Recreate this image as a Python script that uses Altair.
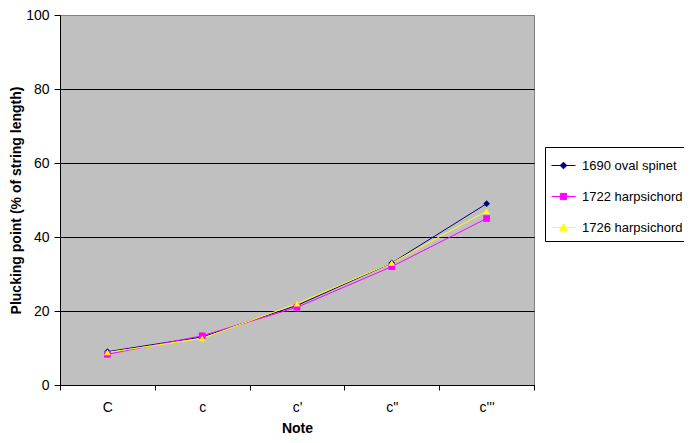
import altair as alt
import pandas as pd

notes = ["C", "c", "c'", "c''", "c'''"]
series = ["1690 oval spinet", "1722 harpsichord", "1726 harpsichord"]
spinet_1690 = [9, 13, 21.5, 33, 49]
harpsichord_1722 = [8.3, 13.3, 21, 32, 45]
harpsichord_1726 = [8.8, 12.6, 22, 33, 47]
colors = ["#000080", "#FF00FF", "#FFFF00"]
shapes = ["diamond", "square", "triangle-up"]
legend_shapes = [
    "M-1,0H1M0,-0.28L0.28,0L0,0.28L-0.28,0Z",
    "M-1,0H1M-0.26,-0.26H0.26V0.26H-0.26Z",
    "M-1,0H1M0,-0.3L0.32,0.24H-0.32Z",
]

rows = []
for s, vals in zip(series, [spinet_1690, harpsichord_1722, harpsichord_1726]):
    for n, v in zip(notes, vals):
        rows.append({"note": n, "series": s, "legend": s, "value": v})
df = pd.DataFrame(rows)

FONT = "Liberation Sans"

x = alt.X(
    "note:N",
    sort=notes,
    bandPosition=0.5,
    scale=alt.Scale(type="band", paddingInner=0, paddingOuter=0),
    axis=alt.Axis(
        title="Note",
        tickBand="extent",
        grid=False,
        labelAngle=0,
        tickSize=5,
        labelPadding=10,
        titlePadding=7,
    ),
)
y = alt.Y(
    "value:Q",
    scale=alt.Scale(domain=[0, 100], nice=False),
    axis=alt.Axis(
        title="Plucking point (% of string length)",
        values=[0, 20, 40, 60, 80, 100],
        grid=True,
        gridColor=alt.condition("datum.value == 100", alt.value("#808080"), alt.value("#000000")),
        tickSize=6,
        labelPadding=5,
        titlePadding=2,
    ),
)

color_scale = alt.Scale(domain=series, range=colors)

lines = alt.Chart(df).mark_line(strokeWidth=1).encode(
    x=x,
    y=y,
    color=alt.Color("series:N", scale=color_scale, legend=None),
)

points = alt.Chart(df).mark_point(filled=True, opacity=1, size=45).encode(
    x=x,
    y=y,
    color=alt.Color("series:N", scale=color_scale, legend=None),
    shape=alt.Shape("series:N", scale=alt.Scale(domain=series, range=shapes), legend=None),
)

leg = alt.Legend(
    title=None,
    orient="none",
    legendX=485,
    legendY=132,
    symbolSize=576,
    symbolStrokeWidth=1,
    symbolOpacity=1,
    labelFont=FONT,
    labelFontSize=13,
    labelColor="black",
    labelOffset=6,
    rowPadding=11,
    padding=6,
    strokeColor="black",
    fillColor="white",
)

# legend-only layer: no rows drawn, scales carry explicit domains
legend_layer = alt.Chart(df).transform_filter("false").mark_point(filled=True).encode(
    x=x,
    y=y,
    fill=alt.Fill("legend:N", scale=alt.Scale(domain=series, range=colors), legend=leg),
    stroke=alt.Stroke("legend:N", scale=alt.Scale(domain=series, range=colors), legend=leg),
    shape=alt.Shape("legend:N", scale=alt.Scale(domain=series, range=legend_shapes), legend=leg),
)

chart = (
    alt.layer(lines, points, legend_layer)
    .resolve_scale(shape="independent", color="independent", fill="independent", stroke="independent")
    .resolve_legend(shape="independent", color="independent", fill="independent", stroke="independent")
    .properties(
        width=474,
        height=370,
        padding={"left": 52, "top": 7, "right": 150, "bottom": 50},
        autosize=alt.AutoSizeParams(type="none"),
        background="white",
    )
    .configure_view(fill="#C0C0C0", stroke="#808080", strokeWidth=1)
    .configure_axis(
        domainColor="black",
        tickColor="black",
        labelColor="black",
        titleColor="black",
        labelFont=FONT,
        labelFontSize=14,
        titleFont=FONT,
        titleFontSize=14,
        titleFontWeight="bold",
        gridWidth=1,
    )
)

chart.save("out.html", embed_options={"renderer": "svg", "actions": False})
